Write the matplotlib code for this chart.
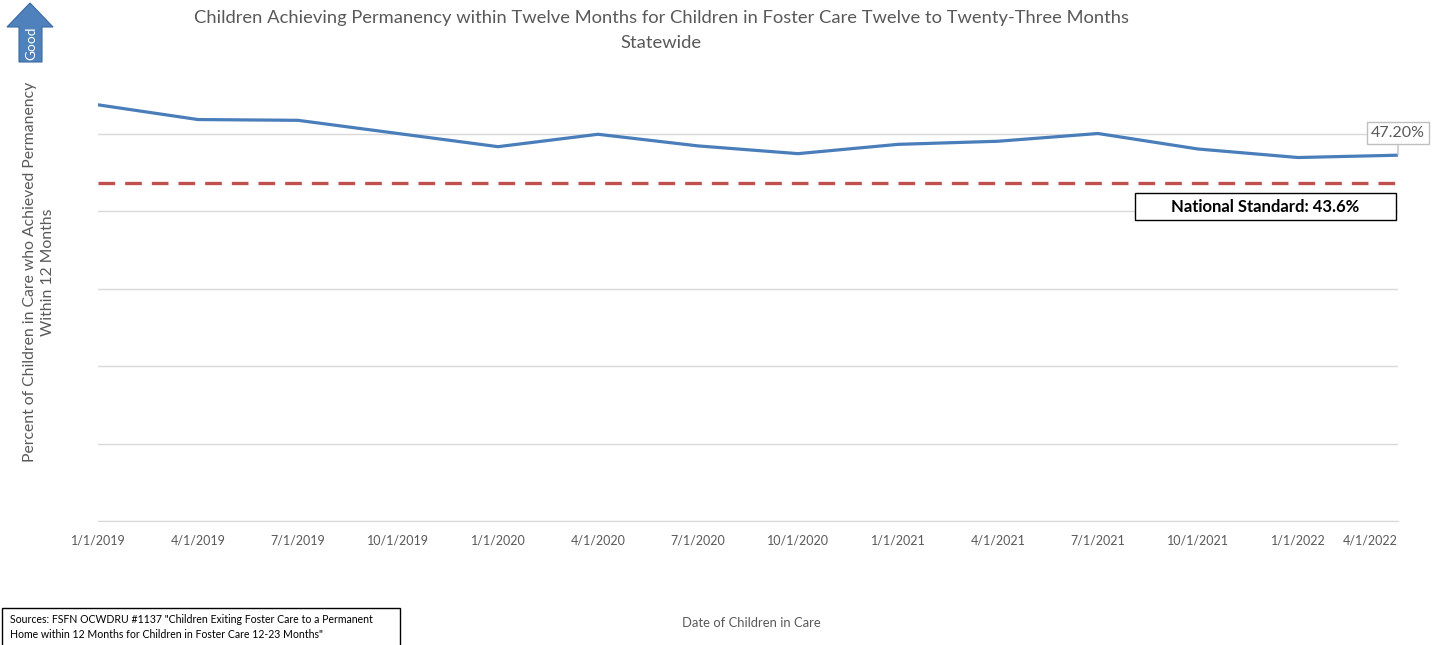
import matplotlib.pyplot as plt
import matplotlib.patches as patches
import numpy as np

# quarterly dates and percent achieving permanency
dates = ["1/1/2019", "4/1/2019", "7/1/2019", "10/1/2019", "1/1/2020", "4/1/2020",
         "7/1/2020", "10/1/2020", "1/1/2021", "4/1/2021", "7/1/2021", "10/1/2021",
         "1/1/2022", "4/1/2022"]
pct = [53.7, 51.8, 51.7, 50.0, 48.3, 49.9, 48.4, 47.4, 48.6, 49.0, 50.0, 48.0, 46.9, 47.2]
national_standard = 43.6
y_ticks = [0, 10, 20, 30, 40, 50]

GRAY = "#595959"
BLUE = "#4A7EBB"
RED = "#C0504D"

plt.rcParams['font.family'] = ['Lato', 'DejaVu Sans']

fig = plt.figure(figsize=(14.45, 6.45), dpi=100)
W, H = 1445, 645
ax = fig.add_axes([98 / W, 1 - 521 / H, 1300 / W, 465 / H])

x = np.arange(len(dates))
ax.plot(x, pct, color=BLUE, lw=2.3, solid_joinstyle='round', zorder=3)
ax.axhline(national_standard, color=RED, lw=2.4, ls=(0, (5, 3)), zorder=2)

ax.set_xlim(x[0], x[-1])
ax.set_ylim(0, 60)
ax.set_yticks(y_ticks)
ax.set_yticklabels([])
ax.yaxis.grid(True, color="#D9D9D9", lw=1)
ax.set_axisbelow(True)
ax.tick_params(axis='y', length=0)
ax.set_xticks(x)
ax.set_xticklabels(dates, fontsize=9, color=GRAY)
ax.tick_params(axis='x', length=0, pad=10)
labels = ax.get_xticklabels()
labels[-1].set_horizontalalignment('right')
for s in ['top', 'right', 'left']:
    ax.spines[s].set_visible(False)
ax.spines['bottom'].set_color("#D9D9D9")

# last value callout
ax.annotate(f"{pct[-1]:.2f}%", xy=(x[-1], pct[-1]), xytext=(0, 16),
            textcoords='offset points', ha='center', va='center',
            fontsize=11.5, color=GRAY,
            bbox=dict(boxstyle='square,pad=0.25', fc='white', ec="#BFBFBF", lw=1),
            arrowprops=dict(arrowstyle='-', color="#BFBFBF", lw=1, shrinkA=0, shrinkB=0),
            annotation_clip=False, zorder=5)

# national standard label box
fig.add_artist(patches.Rectangle((1135 / W, 1 - 220 / H), 261 / W, 27 / H,
                                 transform=fig.transFigure, fc='white', ec='black', lw=1))
fig.text(1265 / W, 1 - 207 / H, f"National Standard: {national_standard}%",
         ha='center', va='center', fontsize=12, fontweight='bold', color='black')

# titles
fig.text(661 / W, 1 - 18 / H,
         "Children Achieving Permanency within Twelve Months for Children in Foster Care Twelve to Twenty-Three Months",
         ha='center', va='center', fontsize=13.25, color=GRAY)
fig.text(661 / W, 1 - 43 / H, "Statewide", ha='center', va='center', fontsize=13.25, color=GRAY)

fig.text(39 / W, 1 - 272 / H,
         "Percent of Children in Care who Achieved Permanency\nWithin 12 Months",
         ha='center', va='center', rotation=90, fontsize=11.3, color=GRAY, linespacing=1.3)
fig.text(751 / W, 1 - 623 / H, "Date of Children in Care", ha='center', va='center',
         fontsize=9.4, color=GRAY)

# source box
fig.add_artist(patches.Rectangle((2 / W, -0.01), 398 / W, (645 - 608) / H + 0.01,
                                 transform=fig.transFigure, fc='white', ec='black', lw=1))
fig.text(10 / W, 1 - 627 / H,
         "Sources: FSFN OCWDRU #1137 \"Children Exiting Foster Care to a Permanent\n"
         "Home within 12 Months for Children in Foster Care 12-23 Months\"",
         ha='left', va='center', fontsize=7.6, color='black', linespacing=1.35)

# "Good" arrow
arrow_px = [(30, 3), (53, 27), (42, 27), (42, 62), (19, 62), (19, 27), (7, 27)]
fig.add_artist(patches.Polygon([(px / W, 1 - py / H) for px, py in arrow_px], closed=True,
                               transform=fig.transFigure, fc="#4F81BD", ec="#3A6AA0", lw=0.8))
fig.text(31 / W, 1 - 43 / H, "Good", rotation=90, ha='center', va='center',
         fontsize=9.8, color='white')

fig.savefig("out.png", dpi=100)
